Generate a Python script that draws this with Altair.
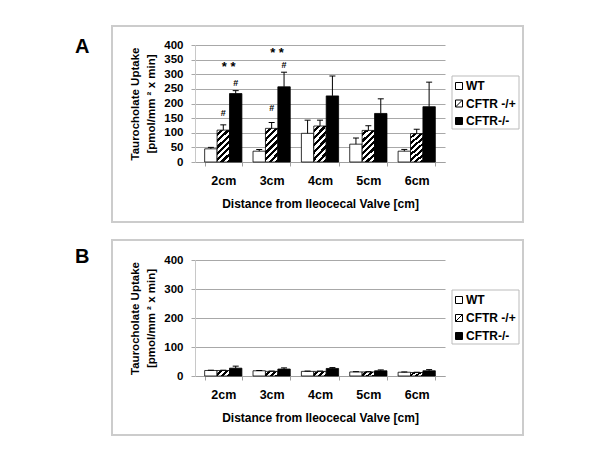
import altair as alt
import pandas as pd

FONT = "Liberation Sans"

cats = ["2cm", "3cm", "4cm", "5cm", "6cm"]
series = ["WT", "CFTR -/+", "CFTR-/-"]

# Panel A values
a_wt = [45, 37, 98, 61, 37]
a_wt_err = [5, 6, 45, 21, 6]
a_het = [109, 115, 123, 108, 97]
a_het_err = [18, 20, 20, 16, 15]
a_ko = [234, 257, 226, 166, 189]
a_ko_err = [10, 50, 68, 50, 84]

# Panel B values
b_wt = [19, 18, 16, 14, 13]
b_wt_err = [1, 1, 1, 1, 1]
b_het = [19, 16, 16, 14, 12]
b_het_err = [1, 1, 1, 1, 1]
b_ko = [27, 24, 26, 18, 18]
b_ko_err = [7, 4, 3, 3, 4]

# Annotations (panel A)
hash_cats = ["2cm", "2cm", "3cm", "3cm"]
hash_series = ["CFTR -/+", "CFTR-/-", "CFTR -/+", "CFTR-/-"]
hash_y = [167, 269, 184, 332]
star_cats = ["2cm", "3cm"]
star_y = [326, 371]

a_ticks = [0, 50, 100, 150, 200, 250, 300, 350, 400]
b_ticks = [0, 100, 200, 300, 400]

y_title = ["Taurocholate Uptake", "[pmol/mm \u00b2 x min]"]
x_title = "Distance from Ileocecal Valve [cm]"


def hatch(w, h, n, black=0.5):
    r = w / h
    k = (1 + r) / (1 + r * r)
    stops = []
    for i in range(n):
        a = i / n
        m = (i + 1 - black) / n
        b = (i + 1) / n
        stops += [alt.GradientStop(offset=a, color="white"),
                  alt.GradientStop(offset=m, color="white"),
                  alt.GradientStop(offset=m, color="black"),
                  alt.GradientStop(offset=b, color="black")]
    return alt.LinearGradient(gradient="linear", stops=stops,
                              x1=0, y1=0, x2=r * k, y2=k)


def panel(letter, vals, ticks, height, hatch_n, hatch_h, frame_y, letter_y,
          legend_y, annotate):
    wt, wte, het, hete, ko, koe = vals
    rows = []
    for i, c in enumerate(cats):
        for s, v, e in zip(series, (wt[i], het[i], ko[i]), (wte[i], hete[i], koe[i])):
            rows.append({"dist": c, "series": s, "val": v, "top": v + e})
    df = pd.DataFrame(rows)
    one = pd.DataFrame({"k": [0]})

    xscale = alt.Scale(domain=cats, paddingInner=0.23, paddingOuter=0.2)
    yscale = alt.Scale(domain=[0, 400], nice=False)
    xoff = alt.XOffset("series:N", scale=alt.Scale(domain=series, paddingInner=0, paddingOuter=0))

    xaxis = alt.Axis(labelAngle=0, labelFont=FONT, labelFontSize=12.5,
                     labelFontWeight="bold", labelColor="black", labelPadding=8,
                     tickBand="extent", tickSize=4, tickColor="#a0a0a0",
                     domainColor="#a0a0a0", titleFont=FONT, titleFontSize=12,
                     titleFontWeight="bold", titleColor="black", titlePadding=12,
                     grid=False)
    yaxis = alt.Axis(values=ticks, grid=True, gridColor="#a8a8a8", gridWidth=1,
                     domainColor="#c8c8c8", tickColor="#a8a8a8", tickSize=4,
                     labelFont=FONT, labelFontSize=11.5, labelFontWeight="bold",
                     labelColor="black", labelPadding=8, titleFont=FONT,
                     titleFontSize=11.5, titleFontWeight="bold", titleColor="black",
                     titlePadding=7, titleLineHeight=16)

    def X(axis=None, title=None):
        if axis is None:
            return alt.X("dist:N", sort=cats, scale=xscale, axis=None)
        return alt.X("dist:N", sort=cats, scale=xscale, axis=axis, title=title)

    def Y(field, axis=None, title=None):
        if axis is None:
            return alt.Y(field, scale=yscale, axis=None)
        return alt.Y(field, scale=yscale, axis=axis, title=title)

    base = alt.Chart(df)
    frame = alt.Chart(one).mark_rect(filled=False, stroke="#cccccc", strokeWidth=2).encode(
        x=alt.value(-83), x2=alt.value(328), y=alt.value(frame_y[0]), y2=alt.value(frame_y[1]))
    wt_bar = base.transform_filter(alt.datum.series == "WT").mark_bar(
        fill="white", stroke="black", strokeWidth=0.8).encode(
        x=X(xaxis, x_title), xOffset=xoff, y=Y("val:Q", yaxis, y_title))
    het_bar = base.transform_filter(alt.datum.series == "CFTR -/+").mark_bar(
        fill=hatch(12.4, hatch_h, hatch_n), stroke="black", strokeWidth=0.8).encode(
        x=X(), xOffset=xoff, y=Y("val:Q"))
    ko_bar = base.transform_filter(alt.datum.series == "CFTR-/-").mark_bar(
        fill="black", stroke="black", strokeWidth=0.8).encode(
        x=X(), xOffset=xoff, y=Y("val:Q"))
    rule = base.mark_rule(color="black", strokeWidth=1).encode(
        x=X(), xOffset=xoff, y=Y("val:Q"), y2="top:Q")
    cap = base.mark_tick(color="black", size=6, thickness=1, orient="horizontal",
                         opacity=1).encode(x=X(), xOffset=xoff, y=Y("top:Q"))
    let = alt.Chart(one).mark_text(text=letter, align="left", baseline="middle",
                                   font=FONT, fontSize=20, fontWeight="bold",
                                   fill="black").encode(
        x=alt.value(-120), y=alt.value(letter_y))

    layers = [frame, wt_bar, het_bar, ko_bar, rule, cap]
    if annotate:
        hdf = pd.DataFrame({"dist": hash_cats, "series": hash_series, "ypos": hash_y})
        sdf = pd.DataFrame({"dist": star_cats, "series": ["CFTR-/-"] * len(star_cats),
                            "ypos": star_y})
        hashes = alt.Chart(hdf).mark_text(text="#", font=FONT, fontSize=9,
                                          fontWeight="bold",
                                          fill="black", baseline="middle").encode(
            x=X(), xOffset=xoff, y=Y("ypos:Q"))
        stars = alt.Chart(sdf).mark_text(text="* *", font=FONT, fontSize=13,
                                         fontWeight="bold", fill="black",
                                         baseline="middle", dx=-7).encode(
            x=X(), xOffset=xoff, y=Y("ypos:Q"))
        layers += [hashes, stars]
    layers.append(let)

    ldf = pd.DataFrame({"series": series})
    lscale = alt.Scale(domain=series, range=[legend_y[0] + 10, legend_y[1] - 8], padding=0)
    leg_box = alt.Chart(one).mark_rect(fill="white", stroke="#bbbbbb", strokeWidth=1).encode(
        x=alt.value(257), x2=alt.value(324), y=alt.value(legend_y[0]), y2=alt.value(legend_y[1]))
    sym_path = "M-1,-1H1V1H-1Z M-1,1L1,-1"
    leg_sym = alt.Chart(ldf).mark_point(filled=True, stroke="black", strokeWidth=1,
                                        size=49, opacity=1).encode(
        x=alt.value(264),
        y=alt.Y("series:N", scale=lscale, axis=None),
        shape=alt.Shape("series:N", scale=alt.Scale(domain=series,
                        range=["square", sym_path, "square"]), legend=None),
        fill=alt.Fill("series:N", scale=alt.Scale(domain=series,
                      range=["white", "white", "black"]), legend=None))
    leg_txt = alt.Chart(ldf).mark_text(align="left", baseline="middle", font=FONT,
                                       fontSize=12, fontWeight="bold",
                                       fill="black").encode(
        x=alt.value(271), y=alt.Y("series:N", scale=lscale, axis=None),
        text="series:N")
    layers += [leg_box, leg_sym, leg_txt]

    return alt.layer(*layers).resolve_scale(y="independent").resolve_axis(
        x="independent").properties(width=250, height=height)


pA = panel("A", (a_wt, a_wt_err, a_het, a_het_err, a_ko, a_ko_err), a_ticks, 117,
           7, 33, (-19, 177), 2, (31, 84), True)
pB = panel("B", (b_wt, b_wt_err, b_het, b_het_err, b_ko, b_ko_err), b_ticks, 116,
           3, 5, (-20, 175), -3, (30, 84), False)

chart = alt.vconcat(pA, pB, spacing=16).properties(
    padding={"left": 67, "top": 17, "right": 5, "bottom": 5}
).configure(font=FONT).configure_view(strokeWidth=0)

chart.save("out.html", embed_options={"renderer": "svg", "actions": False})
